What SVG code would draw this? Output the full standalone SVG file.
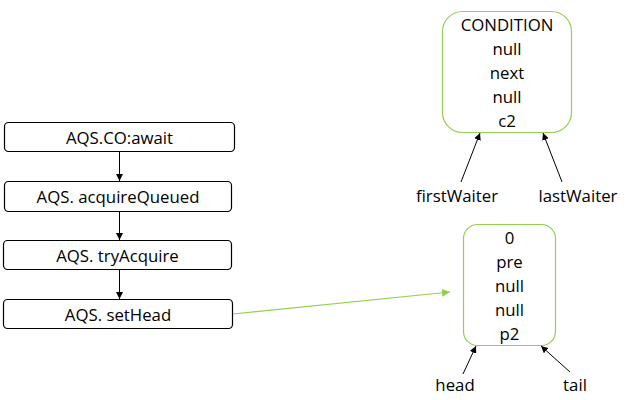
<svg xmlns="http://www.w3.org/2000/svg" width="626" height="400" viewBox="0 0 626 400">
  <style>
    text { font-family: "Open Sans", "Noto Sans", "Liberation Sans", sans-serif; font-size: 16.8px; fill: #000; text-anchor: middle; dominant-baseline: central; }
    .step { fill: #fff; stroke: #000; stroke-width: 1.2; }
    .node { fill: #fff; stroke: #92d050; stroke-width: 1.2; }
    .link { stroke: #000; stroke-width: 1; fill: none; }
    .glink { stroke: #92d050; stroke-width: 1.2; fill: none; }
  </style>
  <defs>
    <marker id="ah" viewBox="0 0 10 10" refX="10" refY="5" markerWidth="7" markerHeight="7" orient="auto" markerUnits="userSpaceOnUse">
      <path d="M0,0 L10,5 L0,10 z" fill="#000"/>
    </marker>
    <marker id="gah" viewBox="0 0 10 10" refX="10" refY="5" markerWidth="8" markerHeight="8" orient="auto" markerUnits="userSpaceOnUse">
      <path d="M0,0 L10,5 L0,10 z" fill="#92d050"/>
    </marker>
  </defs>

  <g id="await">
    <rect class="step" x="4.5" y="122.5" width="230" height="29" rx="4"/>
    <text x="119.5" y="137">AQS.CO:await</text>
  </g>
  <g id="acquireQueued">
    <rect class="step" x="4.5" y="181.5" width="227" height="30" rx="4"/>
    <text x="118" y="196.5">AQS. acquireQueued</text>
  </g>
  <g id="tryAcquire">
    <rect class="step" x="3.5" y="240.5" width="228" height="29" rx="4"/>
    <text x="117.5" y="255">AQS. tryAcquire</text>
  </g>
  <g id="setHead">
    <rect class="step" x="3.5" y="299.5" width="229" height="29" rx="4"/>
    <text x="118" y="314">AQS. setHead</text>
  </g>

  <g id="condition">
    <rect class="node" x="442.5" y="11.5" width="129" height="121" rx="20"/>
    <text x="507" y="24">CONDITION</text>
    <text x="507" y="48">null</text>
    <text x="507" y="72">next</text>
    <text x="507" y="96">null</text>
    <text x="507" y="120">c2</text>
  </g>
  <g id="firstWaiter">
    <text x="457" y="195">firstWaiter</text>
  </g>
  <g id="lastWaiter">
    <text x="578" y="195">lastWaiter</text>
  </g>

  <g id="p2">
    <rect class="node" x="463.5" y="224.5" width="92" height="121" rx="14"/>
    <text x="509.5" y="237">0</text>
    <text x="509.5" y="261">pre</text>
    <text x="509.5" y="285">null</text>
    <text x="509.5" y="309">null</text>
    <text x="509.5" y="333">p2</text>
  </g>
  <g id="head">
    <text x="455" y="384">head</text>
  </g>
  <g id="tail">
    <text x="575" y="384">tail</text>
  </g>

  <g id="connectors">
    <line class="link" x1="119.5" y1="152" x2="119.5" y2="181" marker-end="url(#ah)"/>
    <line class="link" x1="119.5" y1="212" x2="119.5" y2="240" marker-end="url(#ah)"/>
    <line class="link" x1="119.5" y1="270" x2="119.5" y2="299" marker-end="url(#ah)"/>
    <line class="glink" x1="233" y1="314" x2="450" y2="292" marker-end="url(#gah)"/>
    <line class="link" x1="461" y1="182" x2="480" y2="133" marker-end="url(#ah)"/>
    <line class="link" x1="562" y1="182" x2="543" y2="133" marker-end="url(#ah)"/>
    <line class="link" x1="463" y1="374" x2="476" y2="346" marker-end="url(#ah)"/>
    <line class="link" x1="570" y1="372" x2="541" y2="346" marker-end="url(#ah)"/>
  </g>
</svg>
